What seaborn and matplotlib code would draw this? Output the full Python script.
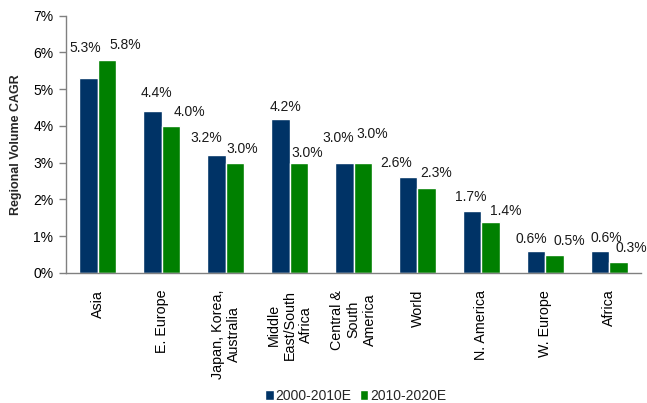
import matplotlib
matplotlib.use("Agg")
import matplotlib.pyplot as plt
import seaborn as sns
import pandas as pd
from matplotlib.ticker import FuncFormatter, MultipleLocator

# Regional volume CAGR (%) for two periods
regions = ["Asia", "E. Europe", "Japan, Korea,\nAustralia", "Middle\nEast/South\nAfrica",
           "Central &\nSouth\nAmerica", "World", "N. America", "W. Europe", "Africa"]
series_names = ["2000-2010E", "2010-2020E"]
cagr_2000_2010 = [5.3, 4.4, 3.2, 4.2, 3.0, 2.6, 1.7, 0.6, 0.6]
cagr_2010_2020 = [5.8, 4.0, 3.0, 3.0, 3.0, 2.3, 1.4, 0.5, 0.3]

# Hand-placed data-label offsets (pixels from the top-centre of each bar)
label_dx = [[-3, 4, -10, 5, -6, -12, -1, -5, 6],
            [18, 18, 7, 8, 9, 9, 15, 15, 13]]
label_dy = [[30, 18, 17, 12, 25, 14, 14, 12, 13],
            [15, 14, 14, 10, 29, 15, 11, 14, 14]]

df = pd.DataFrame({
    "Region": regions * 2,
    "Period": [series_names[0]] * len(regions) + [series_names[1]] * len(regions),
    "CAGR": cagr_2000_2010 + cagr_2010_2020,
})

sns.set_theme(style="white")
plt.rcParams["font.family"] = ["Liberation Sans", "DejaVu Sans"]

fig = plt.figure(figsize=(6.47, 4.03), dpi=100)
ax = fig.add_axes([0.102, 0.3226, 0.889, 0.6384])

palette = {series_names[0]: "#003366", series_names[1]: "#008000"}
sns.barplot(data=df, x="Region", y="CAGR", hue="Period", order=regions,
            hue_order=series_names, palette=palette, width=0.58,
            saturation=1, ax=ax, legend=True)

ax.set_ylim(0, 7)
ax.set_xlim(-0.5, len(regions) - 0.5)
ax.yaxis.set_major_locator(MultipleLocator(1))
ax.yaxis.set_major_formatter(FuncFormatter(lambda v, _: f"{v:.0f}%"))
ax.set_xlabel("")
ax.set_ylabel("Regional Volume CAGR", fontsize=9, fontweight="bold", labelpad=8)

for side in ["top", "right"]:
    ax.spines[side].set_visible(False)
for side in ["left", "bottom"]:
    ax.spines[side].set_color("#808080")
    ax.spines[side].set_linewidth(1.0)

ax.tick_params(axis="y", which="major", left=True, length=5, width=1,
               color="#808080", labelsize=10, pad=4, labelcolor="#000000")
ax.tick_params(axis="x", bottom=False, labelsize=10.3, pad=6, labelcolor="#000000")
for lbl in ax.get_xticklabels():
    lbl.set_rotation(90)
    lbl.set_ha("center")
    lbl.set_va("top")
    lbl.set_multialignment("center")

# Data labels
for s, container in enumerate(ax.containers):
    for i, bar in enumerate(container):
        v = bar.get_height()
        cx = bar.get_x() + bar.get_width() / 2
        ax.annotate(f"{v:.1f}%", xy=(cx, v), xytext=(label_dx[s][i], label_dy[s][i]),
                    textcoords="offset pixels", ha="center", va="center",
                    fontsize=10, color="#1a1a1a")

# Legend below the chart
handles, labels = ax.get_legend_handles_labels()
ax.get_legend().remove()
fig.legend(handles, labels, loc="center", bbox_to_anchor=(0.55, 0.017), ncol=2,
           frameon=False, fontsize=10, handlelength=0.6, handleheight=0.7,
           handletextpad=0.15, columnspacing=0.6, borderpad=0)

fig.savefig("out.png", dpi=100)
